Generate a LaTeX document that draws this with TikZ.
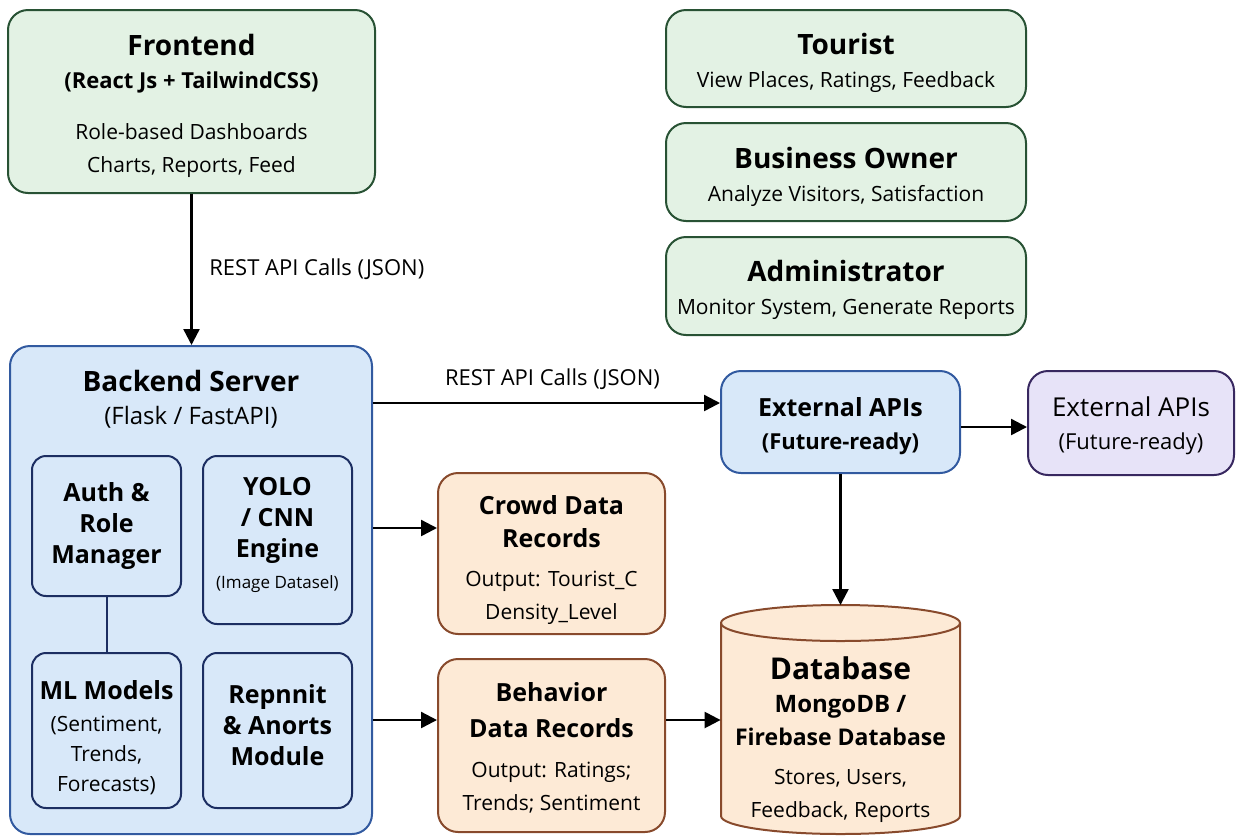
\documentclass[tikz,border=0pt]{standalone}
\usepackage{fontspec}
\setmainfont{Open Sans}
\usetikzlibrary{arrows.meta, positioning}

\definecolor{grnfill}{RGB}{227,242,228}
\definecolor{grnline}{RGB}{40,82,52}
\definecolor{bluefill}{RGB}{216,232,249}
\definecolor{blueline}{RGB}{50,90,160}
\definecolor{navyline}{RGB}{28,46,98}
\definecolor{orgfill}{RGB}{253,234,214}
\definecolor{orgline}{RGB}{136,74,44}
\definecolor{purfill}{RGB}{231,227,248}
\definecolor{purline}{RGB}{56,40,96}

\newcommand{\ttl}{\fontsize{14}{17}\selectfont\bfseries}
\newcommand{\modf}{\fontsize{12.5}{15.5}\selectfont\bfseries}
\newcommand{\subttl}{\fontsize{11}{14}\selectfont\bfseries}
\newcommand{\bodyf}{\fontsize{10.5}{16.5}\selectfont}
\newcommand{\tinyf}{\fontsize{8.5}{10}\selectfont\mdseries}
% invisible struts to nudge text inside boxes
\newcommand{\topgap}[1]{\rule{0pt}{#1}}
\newcommand{\botgap}[1]{\rule[-#1]{0pt}{#1}}

\tikzset{
  box/.style={draw, line width=1pt, rounded corners=10pt, align=center, inner sep=0pt, font=\bodyf},
  greenbox/.style={box, fill=grnfill, draw=grnline},
  bluebox/.style={box, fill=bluefill, draw=blueline},
  subbox/.style={box, fill=bluefill, draw=navyline, rounded corners=7pt, minimum width=74.5pt},
  orangebox/.style={box, fill=orgfill, draw=orgline, minimum width=113.5pt},
  purplebox/.style={box, fill=purfill, draw=purline},
  arr/.style={-{Triangle[length=8pt, width=8pt]}, line width=1.2pt},
}

\begin{document}
\begin{tikzpicture}[x=0.5pt, y=-0.5pt]
    \useasboundingbox (0,0) rectangle (1236,836);

    % Frontend
    \node[greenbox, minimum width=183.5pt, minimum height=91.5pt] (front) at (191.5,101.5)
        {\topgap{14.7pt}{\ttl Frontend}\\{\subttl (React Js + TailwindCSS)}\\[9pt]Role-based Dashboards\\Charts, Reports, Feed};

    % User roles
    \node[greenbox, minimum width=180pt, minimum height=48.5pt] (tourist) at (846,58.5)
        {\topgap{15.2pt}{\ttl Tourist}\\View Places, Ratings, Feedback};
    \node[greenbox, minimum width=180pt, minimum height=49pt] (owner) at (846,172)
        {\topgap{15.2pt}{\ttl Business Owner}\\Analyze Visitors, Satisfaction};
    \node[greenbox, minimum width=180pt, minimum height=49pt] (admin) at (846,286)
        {\topgap{14.8pt}{\ttl Administrator}\\Monitor System, Generate Reports};

    % Backend
    \node[bluebox, minimum width=181pt, minimum height=244pt] (backend) at (191,590) {};
    \node[align=center, font=\bodyf] (backend_title) at (191,399)
        {{\ttl Backend Server}\\{\fontsize{12}{14}\selectfont (Flask / FastAPI)}};

    \node[subbox, minimum height=70pt, font=\modf] (auth) at (106.5,526) {Auth \&\\Role\\Manager};
    \node[subbox, minimum height=84pt, font=\modf] (yolo) at (277.5,540)
        {YOLO\\/ CNN\\Engine\\{\tinyf (Image Datasel)}\botgap{7pt}};
    \node[subbox, minimum height=77.5pt, font=\fontsize{10.5}{15}\selectfont] (ml) at (106.5,730.5)
        {\topgap{16.5pt}{\modf ML Models}\\[1pt](Sentiment,\\Trends,\\Forecasts)};
    \node[subbox, minimum height=77.5pt, font=\modf] (report) at (277.5,730.5)
        {Repnnit\\\& Anorts\\Module\botgap{6pt}};
    \draw[line width=1pt, navyline] (auth.south) -- (ml.north);

    % Data records
    \node[orangebox, minimum height=80.5pt] (crowd) at (551.5,553.5)
        {\topgap{16pt}{\modf Crowd Data}\\{\modf Records}\\[3pt]Output: Tourist\_C\\Density\_Level};
    \node[orangebox, minimum height=86.5pt] (behav) at (551.5,745.5)
        {\topgap{11.5pt}{\modf Behavior}\\[1.5pt]{\modf Data Records}\\[3.5pt]Output: Ratings;\\Trends; Sentiment};

    % External APIs
    \node[bluebox, minimum width=119.5pt, minimum height=51pt] (ext) at (840.5,422)
        {\topgap{13.5pt}{\modf External APIs}\\{\subttl (Future-ready)}};
    \node[purplebox, minimum width=103pt, minimum height=52pt, font=\fontsize{11}{16.5}\selectfont] (ext_next) at (1131,423)
        {\topgap{13pt}{\fontsize{13}{15.5}\selectfont External APIs}\\(Future-ready)};

    % Database cylinder
    \draw[line width=1pt, draw=orgline, fill=orgfill] (721,623) -- (721,816)
        arc[start angle=180, end angle=360, x radius=59.75pt, y radius=9pt] -- (960,623)
        arc[start angle=0, end angle=180, x radius=59.75pt, y radius=9pt] -- cycle;
    \draw[line width=1pt, draw=orgline] (721,623)
        arc[start angle=180, end angle=360, x radius=59.75pt, y radius=9pt];
    \coordinate (db_top) at (840.5,605);
    \node[align=center, font=\bodyf, minimum width=119.5pt, inner sep=0pt] (db) at (840.5,740)
        {{\fontsize{15}{18}\selectfont\bfseries Database}\\{\fontsize{12}{15}\selectfont\bfseries MongoDB /}\\{\fontsize{11.5}{15}\selectfont\bfseries Firebase Database}\\[3pt]Stores, Users,\\Feedback, Reports};

    % Connections
    \draw[arr] (front.south) -- node[right=5pt, font=\fontsize{11}{13}\selectfont] (rest_a) {REST API Calls (JSON)} (front.south |- backend.north);
    \coordinate (ext_in) at ([yshift=9.5pt]ext.west);
    \draw[arr] (backend.east |- ext_in) -- node[above=3pt, xshift=3pt, font=\fontsize{11}{13}\selectfont] (rest_b) {REST API Calls (JSON)} (ext_in);
    \coordinate (ext_out) at ([yshift=-2.5pt]ext.east);
    \draw[arr] (ext_out) -- (ext_out -| ext_next.west);
    \draw[arr] (ext.south) -- (db_top);
    \coordinate (crowd_in) at ([yshift=12.75pt]crowd.west);
    \draw[arr] (backend.east |- crowd_in) -- (crowd_in);
    \coordinate (behav_in) at ([yshift=12.75pt]behav.west);
    \draw[arr] (backend.east |- behav_in) -- (behav_in);
    \draw[arr] ([yshift=12.75pt]behav.east) -- (db.west |- behav_in);
\end{tikzpicture}
\end{document}
